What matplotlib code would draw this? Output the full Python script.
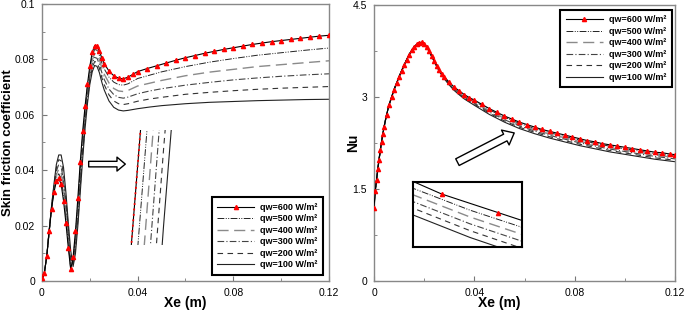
import numpy as np
import matplotlib.pyplot as plt
from matplotlib.ticker import MultipleLocator, FuncFormatter

plt.rcParams['font.family'] = ['Liberation Sans', 'DejaVu Sans']

# ---- skin friction coefficient (left) ----
x_cf600 = [0, 0.001, 0.002, 0.003, 0.004, 0.005, 0.006, 0.007, 0.008, 0.009,
           0.010, 0.011, 0.012, 0.013, 0.014, 0.015, 0.016, 0.017, 0.018, 0.019,
           0.020, 0.021, 0.022, 0.023, 0.024, 0.025, 0.026,
           0.028, 0.030, 0.032, 0.034, 0.036, 0.038,
           0.040, 0.044, 0.048, 0.052, 0.056, 0.060, 0.064, 0.068, 0.072, 0.076,
           0.080, 0.084, 0.088, 0.092, 0.096, 0.100, 0.104, 0.108, 0.112, 0.116, 0.120]
cf_600 = [0.0010, 0.0030, 0.0090, 0.0180, 0.0260, 0.0320, 0.0360, 0.0370, 0.0350, 0.0290,
          0.0210, 0.0120, 0.0042, 0.0085, 0.0180, 0.0300, 0.0430, 0.0540, 0.0630, 0.0710,
          0.0775, 0.0825, 0.0850, 0.0848, 0.0830, 0.0805, 0.0785,
          0.0758, 0.0741, 0.0732, 0.0730, 0.0736, 0.0746,
          0.0756, 0.0767, 0.0777, 0.0787, 0.0797, 0.0806, 0.0814, 0.0822, 0.0829, 0.0836,
          0.0842, 0.0848, 0.0854, 0.0859, 0.0864, 0.0868, 0.0872, 0.0876, 0.0880, 0.0884, 0.0887]

x_cf = [0, 0.001, 0.002, 0.003, 0.004, 0.005, 0.006, 0.007, 0.008, 0.009,
        0.010, 0.011, 0.012, 0.013, 0.014, 0.015, 0.016, 0.017, 0.018, 0.019,
        0.020, 0.021, 0.022, 0.023, 0.024, 0.025, 0.026,
        0.028, 0.030, 0.032, 0.034, 0.036,
        0.040, 0.045, 0.050, 0.060, 0.070, 0.080, 0.090, 0.100, 0.110, 0.120]
cf_500 = [0.0008, 0.003, 0.009, 0.018, 0.0262, 0.0326, 0.0372, 0.0387, 0.0371, 0.0314,
          0.0232, 0.0138, 0.0046, 0.0078, 0.0164, 0.0280, 0.0408, 0.0520, 0.0614, 0.0696,
          0.0762, 0.0811, 0.0836, 0.0833, 0.0814, 0.0788, 0.0766,
          0.0736, 0.0718, 0.0709, 0.0707, 0.0712,
          0.0731, 0.0743, 0.0755, 0.0774, 0.0790, 0.0803, 0.0815, 0.0824, 0.0833, 0.0841]
cf_400 = [0.0006, 0.003, 0.009, 0.018, 0.0264, 0.0332, 0.0384, 0.0404, 0.0392, 0.0338,
          0.0254, 0.0156, 0.0050, 0.0072, 0.0148, 0.0260, 0.0386, 0.0500, 0.0598, 0.0682,
          0.0749, 0.0797, 0.0821, 0.0819, 0.0799, 0.0770, 0.0747,
          0.0715, 0.0695, 0.0686, 0.0684, 0.0688,
          0.0704, 0.0714, 0.0724, 0.0741, 0.0754, 0.0764, 0.0774, 0.0781, 0.0788, 0.0795]
cf_300 = [0.0004, 0.003, 0.009, 0.018, 0.0266, 0.0338, 0.0396, 0.0421, 0.0413, 0.0362,
          0.0276, 0.0174, 0.0060, 0.0065, 0.0132, 0.0240, 0.0364, 0.0480, 0.0582, 0.0668,
          0.0736, 0.0783, 0.0807, 0.0804, 0.0783, 0.0753, 0.0728,
          0.0693, 0.0673, 0.0663, 0.0660, 0.0664,
          0.0676, 0.0686, 0.0694, 0.0707, 0.0717, 0.0726, 0.0733, 0.0739, 0.0744, 0.0748]
cf_200 = [0.0002, 0.003, 0.009, 0.018, 0.0268, 0.0344, 0.0408, 0.0438, 0.0434, 0.0386,
          0.0298, 0.0192, 0.0080, 0.0059, 0.0116, 0.0220, 0.0342, 0.0460, 0.0566, 0.0654,
          0.0723, 0.0769, 0.0792, 0.0790, 0.0768, 0.0735, 0.0709,
          0.0672, 0.0650, 0.0640, 0.0637, 0.0640,
          0.0649, 0.0657, 0.0663, 0.0674, 0.0681, 0.0687, 0.0692, 0.0696, 0.0699, 0.0702]
cf_100 = [0.0, 0.003, 0.009, 0.018, 0.027, 0.035, 0.042, 0.0455, 0.0455, 0.041,
          0.032, 0.021, 0.011, 0.0052, 0.010, 0.020, 0.032, 0.044, 0.055, 0.064,
          0.071, 0.0755, 0.0778, 0.0775, 0.0752, 0.0718, 0.0690,
          0.0650, 0.0627, 0.0617, 0.0614, 0.0616,
          0.0622, 0.0628, 0.0633, 0.0640, 0.0645, 0.0648, 0.0651, 0.0653, 0.0655, 0.0656]

# ---- Nusselt number (right) ----
x_nu600 = [0, 0.0005, 0.001, 0.0015, 0.002, 0.0025, 0.003, 0.0035, 0.004,
           0.005, 0.006, 0.007, 0.008, 0.009, 0.010, 0.011, 0.012, 0.013, 0.014,
           0.015, 0.016, 0.017, 0.018, 0.019, 0.020, 0.021, 0.022, 0.023, 0.024,
           0.025, 0.026, 0.027, 0.028,
           0.030, 0.032, 0.034, 0.036, 0.038, 0.040,
           0.043, 0.046, 0.049, 0.052, 0.055, 0.058, 0.061, 0.064, 0.067, 0.070,
           0.073, 0.076, 0.079, 0.082, 0.085, 0.088, 0.091, 0.094, 0.097, 0.100,
           0.103, 0.106, 0.109, 0.112, 0.115, 0.118, 0.120]
nu_600 = [1.19, 1.47, 1.65, 1.82, 1.98, 2.13, 2.27, 2.39, 2.51,
          2.71, 2.87, 3.00, 3.12, 3.23, 3.33, 3.43, 3.52, 3.61, 3.69,
          3.76, 3.82, 3.86, 3.885, 3.89, 3.87, 3.82, 3.75, 3.67, 3.59,
          3.51, 3.44, 3.38, 3.33,
          3.24, 3.16, 3.10, 3.04, 2.99, 2.95,
          2.88, 2.81, 2.75, 2.69, 2.64, 2.59, 2.55, 2.51, 2.47, 2.44,
          2.41, 2.38, 2.35, 2.32, 2.29, 2.27, 2.24, 2.22, 2.20, 2.18,
          2.16, 2.14, 2.12, 2.10, 2.09, 2.07, 2.06]

x_nu = [0, 0.0005, 0.001, 0.002, 0.003, 0.004, 0.005, 0.006,
        0.008, 0.010, 0.012, 0.014, 0.016, 0.018, 0.019, 0.020,
        0.022, 0.024, 0.026, 0.028, 0.030, 0.032, 0.034, 0.036,
        0.040, 0.046, 0.052, 0.058, 0.064, 0.070, 0.076, 0.082, 0.088, 0.094,
        0.100, 0.106, 0.112, 0.120]
# all heat fluxes share the rising part up to the peak
nu_head = [1.19, 1.47, 1.65, 1.98, 2.27, 2.51, 2.71, 2.87,
           3.12, 3.33, 3.52, 3.69, 3.82, 3.885, 3.89, 3.87]
nu_500 = nu_head + [3.749, 3.588, 3.436, 3.324, 3.231, 3.149, 3.087, 3.026, 2.933, 2.791, 2.670,
                    2.569, 2.488, 2.418, 2.358, 2.297, 2.247, 2.197, 2.157, 2.117, 2.077, 2.037]
nu_400 = nu_head + [3.748, 3.585, 3.432, 3.317, 3.222, 3.138, 3.074, 3.011, 2.916, 2.772, 2.650,
                    2.548, 2.467, 2.396, 2.335, 2.275, 2.224, 2.174, 2.134, 2.094, 2.054, 2.014]
nu_300 = nu_head + [3.747, 3.583, 3.428, 3.311, 3.213, 3.127, 3.061, 2.997, 2.899, 2.753, 2.630,
                    2.527, 2.445, 2.374, 2.313, 2.252, 2.202, 2.151, 2.111, 2.071, 2.031, 1.991]
nu_200 = nu_head + [3.746, 3.580, 3.424, 3.304, 3.204, 3.116, 3.048, 2.982, 2.882, 2.734, 2.610,
                    2.506, 2.424, 2.352, 2.290, 2.230, 2.179, 2.128, 2.088, 2.048, 2.008, 1.968]
nu_100 = nu_head + [3.745, 3.578, 3.420, 3.298, 3.195, 3.105, 3.035, 2.968, 2.865, 2.715, 2.590,
                    2.485, 2.402, 2.330, 2.268, 2.207, 2.156, 2.105, 2.065, 2.025, 1.985, 1.945]

labels = ['qw=600 W/m²', 'qw=500 W/m²', 'qw=400 W/m²',
          'qw=300 W/m²', 'qw=200 W/m²', 'qw=100 W/m²']

line_600 = dict(color='black', lw=0.8, marker='^', ms=3, mfc='red', mec='red', zorder=4)
line_other = [
    dict(color='#222222', lw=0.7, ls=(0, (7, 1.5, 1, 1.5, 1, 1.5))),
    dict(color='#8a8a8a', lw=1.0, ls=(0, (8, 4))),
    dict(color='#444444', lw=0.8, ls=(0, (6, 2, 1, 2))),
    dict(color='#333333', lw=0.8, ls=(0, (5, 4))),
    dict(color='#222222', lw=0.8, ls='-'),
]


def draw_set(ax, x600, y600, x, ys, with_labels=True, every=None):
    ax.plot(x600, y600, label=labels[0] if with_labels else None, markevery=every, **line_600)
    for y, st, lab in zip(ys, line_other, labels[1:]):
        ax.plot(x, y, label=lab if with_labels else None, **st)


def style_axes(ax, ymax, ymajor, yminor):
    ax.set_xlim(0, 0.12)
    ax.set_ylim(0, ymax)
    ax.xaxis.set_major_locator(MultipleLocator(0.04))
    ax.xaxis.set_minor_locator(MultipleLocator(0.02))
    ax.yaxis.set_major_locator(MultipleLocator(ymajor))
    ax.yaxis.set_minor_locator(MultipleLocator(yminor))
    fmt = FuncFormatter(lambda v, p: '%g' % round(v, 6))
    ax.xaxis.set_major_formatter(fmt)
    ax.yaxis.set_major_formatter(fmt)
    ax.tick_params(which='both', direction='in', labelsize=7.5, pad=5, color='#777777')
    ax.tick_params(which='major', length=3.5)
    ax.tick_params(which='minor', length=2)
    for s in ax.spines.values():
        s.set_color('#888888')
        s.set_linewidth(1.0)


def add_legend(ax, loc, anchor):
    leg = ax.legend(loc=loc, bbox_to_anchor=anchor, prop={'size': 6.5, 'weight': 'bold'},
                    handlelength=4.1, handletextpad=0.7, labelspacing=0.28, borderpad=0.6,
                    borderaxespad=0, fancybox=False, edgecolor='black', numpoints=1,
                    framealpha=1)
    leg.get_frame().set_linewidth(1.5)


fig = plt.figure(figsize=(6.85, 3.12), dpi=100)
ax1 = fig.add_axes([0.0613, 0.0994, 0.4190, 0.8878])
ax2 = fig.add_axes([0.546, 0.0994, 0.4394, 0.8846])

# left panel
draw_set(ax1, x_cf600, cf_600, x_cf, [cf_500, cf_400, cf_300, cf_200, cf_100])
style_axes(ax1, 0.1, 0.02, 0.01)
ax1.set_xlabel('Xe (m)', fontsize=10, fontweight='bold')
ax1.xaxis.set_label_coords(0.50, -0.056)
ax1.set_ylabel('Skin friction coefficient', fontsize=9.5, fontweight='bold')
ax1.yaxis.set_label_coords(-0.098, 0.50)
add_legend(ax1, 'lower right', (0.98, 0.022))

ins1 = ax1.inset_axes([0.30, 0.13, 0.153, 0.415])
draw_set(ins1, x_cf600, cf_600, x_cf, [cf_500, cf_400, cf_300, cf_200, cf_100], False)
ins1.plot(x_cf600, cf_600, color='red', lw=1.3, ls=(0, (1, 2)), zorder=5)
ins1.set_xlim(0.01595, 0.01725)
ins1.set_ylim(0.0435, 0.0465)
ins1.set_axis_off()

ax1.annotate('', xy=(0.30, 0.422), xytext=(0.153, 0.422), xycoords='axes fraction',
             arrowprops=dict(arrowstyle='simple,head_length=0.6,head_width=1.0,tail_width=0.4',
                             fc='white', ec='black', lw=1.0))

# right panel
draw_set(ax2, x_nu600, nu_600, x_nu, [nu_500, nu_400, nu_300, nu_200, nu_100])
style_axes(ax2, 4.5, 1.5, 0.75)
ax2.set_xlabel('Xe (m)', fontsize=10, fontweight='bold')
ax2.xaxis.set_label_coords(0.415, -0.056)
ax2.set_ylabel('Nu', fontsize=10, fontweight='bold')
ax2.yaxis.set_label_coords(-0.047, 0.50)
add_legend(ax2, 'upper right', (0.989, 0.982))

ins2 = ax2.inset_axes([0.131, 0.124, 0.36, 0.236])
draw_set(ins2, x_nu600, nu_600, x_nu, [nu_500, nu_400, nu_300, nu_200, nu_100], False,
         every=(1, 2))
ins2.set_xlim(0.064, 0.0755)
ins2.set_ylim(2.30, 2.51)
ins2.set_xticks([])
ins2.set_yticks([])
for s in ins2.spines.values():
    s.set_linewidth(1.5)
    s.set_color('black')

ax2.annotate('', xy=(0.474, 0.541), xytext=(0.269, 0.426), xycoords='axes fraction',
             arrowprops=dict(arrowstyle='simple,head_length=0.6,head_width=1.0,tail_width=0.45',
                             fc='white', ec='black', lw=1.0, mutation_scale=12))

fig.savefig('out.png', dpi=100)
